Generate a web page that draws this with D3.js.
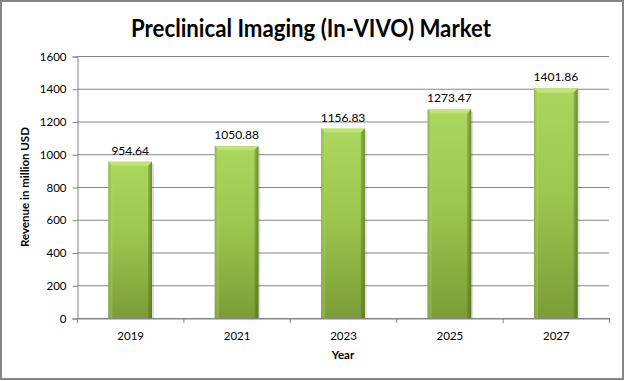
<!DOCTYPE html>
<html><head><meta charset="utf-8">
<script src="https://cdn.jsdelivr.net/npm/d3@7"></script>
<style>body{margin:0;background:#fff}svg{display:block}</style>
</head><body>
<script>
const categories = ["2019","2021","2023","2025","2027"];
const values = [954.64, 1050.88, 1156.83, 1273.47, 1401.86];
const valueLabels = ["954.64","1050.88","1156.83","1273.47","1401.86"];
const yTicks = [0,200,400,600,800,1000,1200,1400,1600];
const title = "Preclinical Imaging (In-VIVO) Market";
const yTitle = "Revenue in million USD";
const xTitle = "Year";

(function(){
const W = 625, H = 381;
const font = "Lato, 'Open Sans', sans-serif";
const svg = d3.select("body").append("svg").attr("width", W).attr("height", H);

svg.append("rect").attr("x",1).attr("y",1).attr("width",W-3).attr("height",H-3)
  .attr("fill","#fff").attr("stroke","#868686").attr("stroke-width",2);

const pL = 77, pR = 609, pT = 56, pB = 318;
const x = d3.scaleBand().domain(categories).range([pL, pR]).paddingInner(0.59).paddingOuter(0.295);
const xb = d3.scaleBand().domain(categories).range([pL, pR]);
const y = d3.scaleLinear().domain([0,1600]).range([pB, pT]);

const defs = svg.append("defs");
const gv = defs.append("linearGradient").attr("id","gv").attr("x1",0).attr("y1",0).attr("x2",0).attr("y2",1);
gv.append("stop").attr("offset","0%").attr("stop-color","#acd75f");
gv.append("stop").attr("offset","45%").attr("stop-color","#9cc84f");
gv.append("stop").attr("offset","100%").attr("stop-color","#7b9c37");
const gh = defs.append("linearGradient").attr("id","gh").attr("x1",0).attr("y1",0).attr("x2",1).attr("y2",0);
gh.append("stop").attr("offset","0%").attr("stop-color","#4d6a18").attr("stop-opacity",0.45);
gh.append("stop").attr("offset","8%").attr("stop-color","#4d6a18").attr("stop-opacity",0.0);
gh.append("stop").attr("offset","92%").attr("stop-color","#4d6a18").attr("stop-opacity",0.0);
gh.append("stop").attr("offset","100%").attr("stop-color","#4d6a18").attr("stop-opacity",0.5);

svg.append("g").selectAll("line").data(yTicks.filter(d=>d>0)).join("line")
  .attr("x1", pL).attr("x2", pR).attr("y1", d=>y(d)+0.5).attr("y2", d=>y(d)+0.5)
  .attr("stroke","#868686").attr("stroke-width",1);

const ya = svg.append("g").attr("transform",`translate(${pL+0.5},0.5)`)
  .call(d3.axisLeft(y).tickValues(yTicks).tickSize(5).tickPadding(6).tickFormat(d3.format("d")));
ya.select(".domain").attr("stroke","#868686");
ya.selectAll(".tick line").attr("stroke","#868686");
ya.selectAll("text").attr("font-family",font).attr("font-size",11.5).attr("fill","#000");

const xa = svg.append("g").attr("transform",`translate(0.5,${pB+0.5})`)
  .call(d3.axisBottom(xb).tickSize(0).tickPadding(13));
xa.select(".domain").attr("stroke","#868686");
xa.selectAll("text").attr("font-family",font).attr("font-size",11.5).attr("fill","#000");
svg.append("g").selectAll("line").data(categories.concat(["__end"])).join("line")
  .attr("x1",(d,i)=> i<categories.length ? xb(d)+0.5 : pR+0.5)
  .attr("x2",(d,i)=> i<categories.length ? xb(d)+0.5 : pR+0.5)
  .attr("y1",pB).attr("y2",pB+5).attr("stroke","#868686");

const bars = svg.append("g").selectAll("g").data(categories).join("g");
bars.each(function(c,i){
  const g = d3.select(this);
  const bx = x(c), bw = x.bandwidth(), by = y(values[i]), bh = pB - y(values[i]);
  g.append("rect").attr("x",bx+2).attr("y",by+2).attr("width",bw).attr("height",bh-2)
    .attr("fill","#000").attr("opacity",0.12);
  g.append("rect").attr("x",bx).attr("y",by).attr("width",bw).attr("height",bh).attr("fill","url(#gv)");
  g.append("rect").attr("x",bx).attr("y",by).attr("width",bw).attr("height",bh).attr("fill","url(#gh)");
  const b = 4;
  g.append("polygon").attr("points",`${bx},${by} ${bx+bw},${by} ${bx+bw-b},${by+b} ${bx+b},${by+b}`)
    .attr("fill","#c4e47f").attr("opacity",0.9);
  g.append("polygon").attr("points",`${bx},${by} ${bx+b},${by+b} ${bx+b},${pB} ${bx},${pB}`)
    .attr("fill","#b7dc6e").attr("opacity",0.35);
  g.append("polygon").attr("points",`${bx+bw},${by} ${bx+bw-b},${by+b} ${bx+bw-b},${pB} ${bx+bw},${pB}`)
    .attr("fill","#4f6d1a").attr("opacity",0.35);
  g.append("text").attr("x",bx+bw/2).attr("y",by-7).attr("text-anchor","middle")
    .attr("font-family",font).attr("font-size",12).attr("fill","#000").text(valueLabels[i]);
});

svg.append("line").attr("x1",pL).attr("x2",pR).attr("y1",pB+0.5).attr("y2",pB+0.5).attr("stroke","#868686");

svg.append("text").attr("x",311).attr("y",37).attr("text-anchor","middle")
  .attr("font-family",font).attr("font-weight","bold").attr("font-size",25)
  .attr("textLength",360).attr("lengthAdjust","spacingAndGlyphs").attr("fill","#000").text(title);
svg.append("text").attr("transform",`translate(29,${(pT+pB)/2}) rotate(-90)`).attr("text-anchor","middle")
  .attr("font-family",font).attr("font-weight","bold").attr("font-size",11.5).attr("fill","#000").text(yTitle);
svg.append("text").attr("x",(pL+pR)/2).attr("y",359).attr("text-anchor","middle")
  .attr("font-family",font).attr("font-weight","bold").attr("font-size",11.5).attr("fill","#000").text(xTitle);
})();
</script>
</body></html>
